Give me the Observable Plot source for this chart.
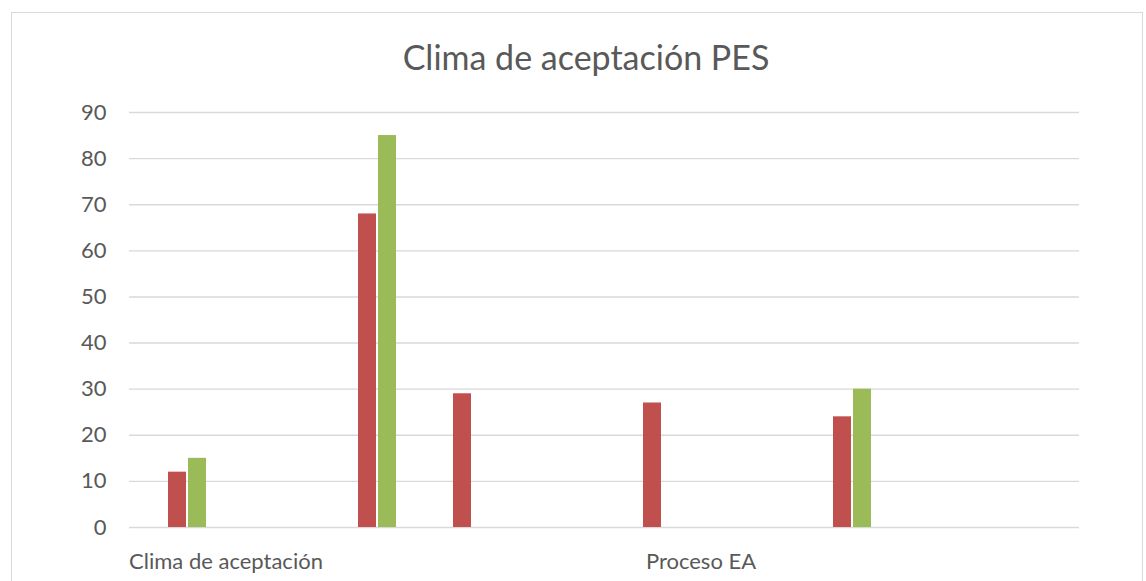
<!DOCTYPE html>
<html>
<head>
<meta charset="utf-8">
<script src="https://cdn.jsdelivr.net/npm/d3@7"></script>
<script src="https://cdn.jsdelivr.net/npm/@observablehq/plot@0.6"></script>
<style>
  html, body { margin: 0; padding: 0; background: #ffffff; }
  #wrap { position: relative; width: 1146px; height: 581px; overflow: hidden; font-family: Lato, "Open Sans", sans-serif; }
  #frame { position: absolute; left: 11px; top: 12px; width: 1132px; height: 620px; border: 1.5px solid #d9d9d9; box-sizing: border-box; }
  #title { position: absolute; left: 0; width: 1172px; top: 40px; text-align: center; font-size: 34px; color: #595959; line-height: 1; }
  #chart { position: absolute; left: 0; top: 0; }
</style>
</head>
<body>
<div id="wrap">
  <div id="frame"></div>
  <div id="chart"></div>
  <div id="title">Clima de aceptación PES</div>
</div>
<script>
// ---- data ----
const categories = ["1", "2", "3", "4", "5", "6", "7", "8", "9", "10"];
const categoryLabels = ["Clima de aceptación", "", "", "", "", "Proceso EA", "", "", "", ""];
const series = ["Serie 1", "Serie 2"];
const serie1 = [12, null, 68, 29, null, 27, null, 24, null, null];
const serie2 = [15, null, 85, null, null, null, null, 30, null, null];
const seriesColors = ["#C0504D", "#9BBB59"];
const yTicks = [0, 10, 20, 30, 40, 50, 60, 70, 80, 90];

const values = [serie1, serie2];
// keep every category (even empty ones) so that each facet column is drawn
const data = [];
categories.forEach((c, i) => {
  series.forEach((s, j) => {
    data.push({cat: c, series: s, value: values[j][i]});
  });
});
const labelOf = new Map(categories.map((c, i) => [c, categoryLabels[i]]));

const chart = Plot.plot({
  width: 1146,
  height: 581,
  marginTop: 112,
  marginBottom: 54,
  marginLeft: 129,
  marginRight: 67,
  style: {fontFamily: "Lato, 'Open Sans', sans-serif", background: "transparent", color: "#595959"},
  fx: {domain: categories, padding: 0},
  x: {domain: series, paddingInner: 0.125, paddingOuter: 1.4375, align: 0.68, axis: null},
  y: {domain: [0, 90]},
  color: {domain: series, range: seriesColors},
  marks: [
    Plot.gridY(yTicks, {stroke: "#d9d9d9", strokeOpacity: 1, strokeWidth: 1.4}),
    Plot.axisY(yTicks, {tickSize: 0, tickPadding: 23, fontSize: 22, fill: "#595959", label: null}),
    Plot.barY(data, {fx: "cat", x: "series", y: "value", fill: "series"}),
    Plot.axisFx({anchor: "bottom", tickSize: 0, tickPadding: 26, dx: 49, fontSize: 22, fill: "#595959", label: null,
                 tickFormat: d => labelOf.get(d)})
  ]
});
document.getElementById("chart").appendChild(chart);
</script>
</body>
</html>
